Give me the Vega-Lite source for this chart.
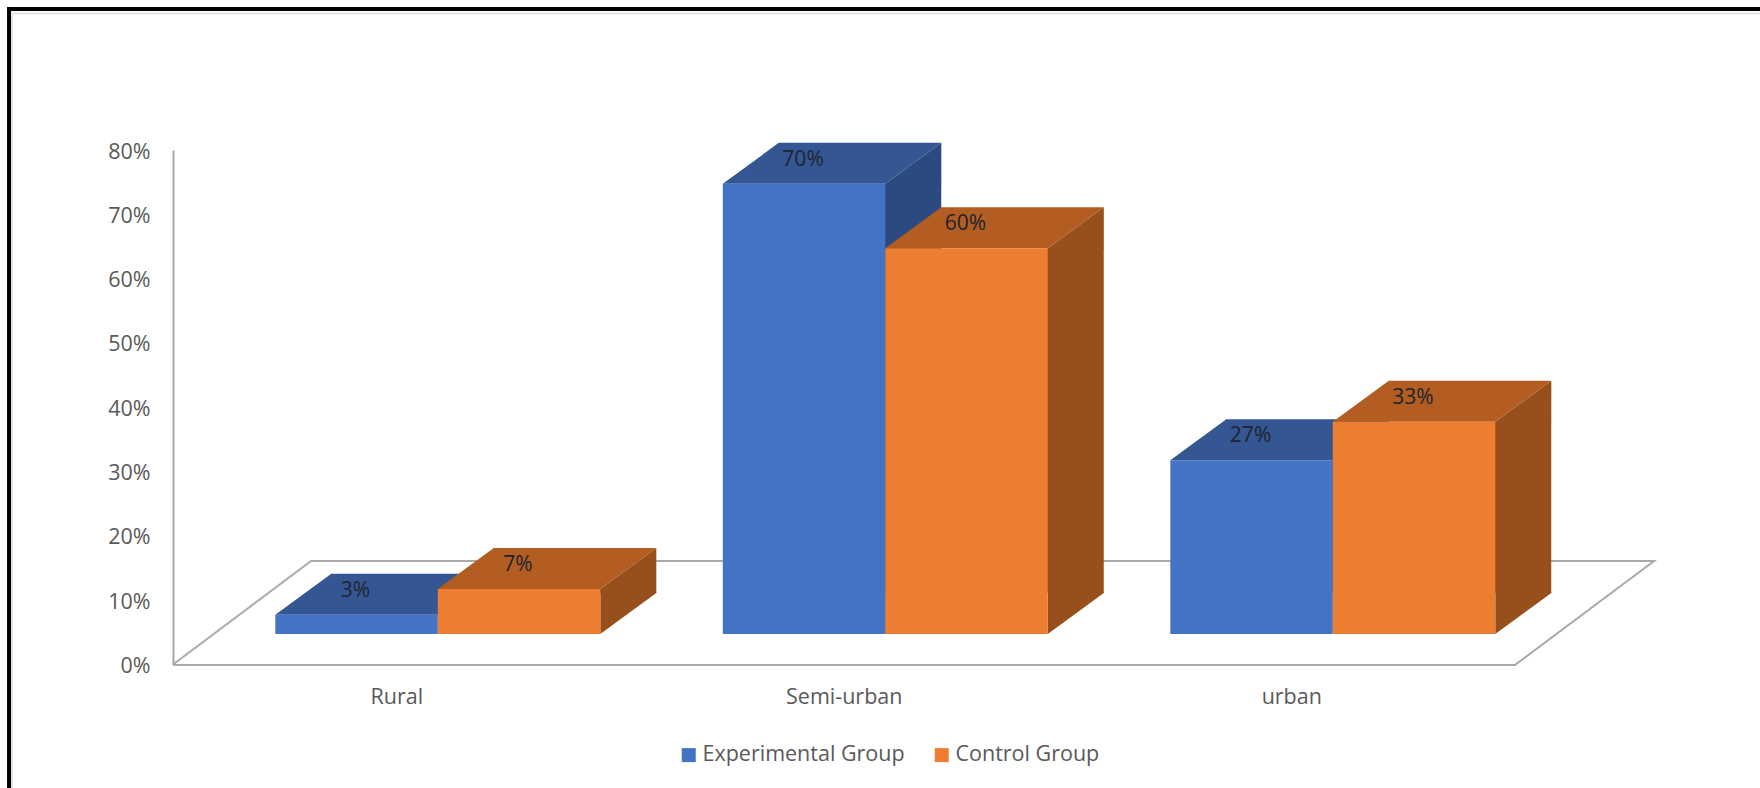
{
  "$schema": "https://vega.github.io/schema/vega-lite/v6.json",
  "width": 1342.5,
  "height": 514.5,
  "autosize": {"type": "none"},
  "padding": {"left": 173, "top": 150, "right": 244.5, "bottom": 123.5},
  "background": "#ffffff",
  "config": {
    "view": {"stroke": null},
    "font": "Open Sans",
    "axis": {"grid": false, "ticks": false, "title": null, "domainColor": "#a9a9a9", "domainWidth": 2, "labelColor": "#595959", "labelFont": "Open Sans", "labelFontSize": 21.5}
  },
  "datasets": {
    "columns": [
      {"area": "Rural", "group": "Experimental Group", "share": 0.03},
      {"area": "Rural", "group": "Control Group", "share": 0.07},
      {"area": "Semi-urban", "group": "Experimental Group", "share": 0.70},
      {"area": "Semi-urban", "group": "Control Group", "share": 0.60},
      {"area": "urban", "group": "Experimental Group", "share": 0.27},
      {"area": "urban", "group": "Control Group", "share": 0.33}
    ],
    "origin": [
      {"area": "Rural", "group": "Experimental Group", "share": 0}
    ]
  },
  "data": {"name": "columns"},
  "encoding": {
    "x": {
      "field": "area",
      "type": "nominal",
      "scale": {"domain": ["Rural", "Semi-urban", "urban"], "padding": 0},
      "axis": {"labelAngle": 0, "labelPadding": 22, "orient": "bottom"}
    },
    "xOffset": {
      "field": "group",
      "type": "nominal",
      "scale": {"type": "band", "domain": ["Experimental Group", "Control Group"], "paddingInner": 0, "paddingOuter": 0.377, "align": 0.835}
    },
    "y": {
      "field": "share",
      "type": "quantitative",
      "scale": {"domain": [0, 0.8], "nice": false},
      "axis": {"format": ".0%", "values": [0, 0.1, 0.2, 0.3, 0.4, 0.5, 0.6, 0.7, 0.8], "labelPadding": 23, "labelOffset": 2, "orient": "left"}
    }
  },
  "layer": [
    {
      "description": "Page frame: a heavy black rule with a pale inner line",
      "data": {"name": "origin"},
      "mark": {"type": "point", "filled": false, "opacity": 1, "size": 4, "stroke": "#000000", "strokeWidth": 4, "shape": "M-347.5,135 L-347.5,-655.5 L1410,-655.5"}
    },
    {
      "data": {"name": "origin"},
      "mark": {"type": "point", "filled": false, "opacity": 1, "size": 4, "stroke": "#e4e4e4", "strokeWidth": 2, "shape": "M-344.5,135 L-344.5,-651 L1410,-651"}
    },
    {
      "description": "Chart floor outline in perspective",
      "data": {"name": "origin"},
      "mark": {"type": "point", "filled": false, "opacity": 1, "size": 4, "stroke": "#a9a9a9", "strokeWidth": 2, "shape": "M1159,0 L1297.5,-103.5 L-45.5,-103.5 L-183.5,0"}
    },
    {
      "description": "Side face, straight part",
      "mark": {"type": "bar", "yOffset": -30.5, "y2Offset": -30.5},
      "encoding": {
        "xOffset": {
          "field": "group",
          "type": "nominal",
          "scale": {"domain": ["Experimental Group", "Control Group"], "range": [264, 483.25], "paddingInner": 0.6508, "paddingOuter": 0}
        },
        "y2": {"datum": 0.0638},
        "color": {"field": "group", "type": "nominal", "legend": null, "scale": {"domain": ["Experimental Group", "Control Group"], "range": ["#2b4a80", "#97501c"]}}
      }
    },
    {
      "description": "Side face, upper wedge, tucked slightly under the straight part",
      "mark": {"type": "point", "filled": true, "opacity": 1, "size": 4, "yOffset": -30.5, "shape": "M81.25,0 L137.25,-41 L137.25,1 L81.25,1 Z"},
      "encoding": {
        "color": {"field": "group", "type": "nominal", "legend": null, "scale": {"domain": ["Experimental Group", "Control Group"], "range": ["#2b4a80", "#97501c"]}}
      }
    },
    {
      "description": "Side face, lower wedge, tucked slightly under the straight part",
      "mark": {"type": "point", "filled": true, "opacity": 1, "size": 4, "yOffset": -30.5, "shape": "M81.25,0 L137.25,-41 L137.25,-42 L81.25,-42 Z"},
      "encoding": {
        "y": {"datum": 0},
        "color": {"field": "group", "type": "nominal", "legend": null, "scale": {"domain": ["Experimental Group", "Control Group"], "range": ["#2b4a80", "#97501c"]}}
      }
    },
    {
      "description": "Top face of each column, running a pixel under the front face",
      "mark": {"type": "point", "filled": true, "opacity": 1, "size": 4, "yOffset": -30.5, "shape": "M-81.25,1 L-81.25,0 L81.25,0 L137.25,-41 L-25.25,-41 L-81.25,0 Z"},
      "encoding": {
        "color": {"field": "group", "type": "nominal", "legend": null, "scale": {"domain": ["Experimental Group", "Control Group"], "range": ["#345692", "#b35d22"]}}
      }
    },
    {
      "description": "Front face of each column, carrying the legend",
      "mark": {"type": "bar", "yOffset": -30.5, "y2Offset": -30.5},
      "encoding": {
        "y2": {"datum": 0},
        "color": {
          "field": "group",
          "type": "nominal",
          "scale": {"domain": ["Experimental Group", "Control Group"], "range": ["#4472c4", "#ed7d31"]},
          "legend": {
            "title": null,
            "orient": "none",
            "legendX": 505,
            "legendY": 594,
            "direction": "horizontal",
            "symbolType": "square",
            "symbolSize": 196,
            "labelFont": "Open Sans",
            "labelFontSize": 21.5,
            "labelColor": "#595959",
            "labelOffset": 3,
            "labelLimit": 400,
            "columnPadding": 26
          }
        }
      }
    },
    {
      "description": "Value labels lying on the top faces",
      "mark": {"type": "text", "font": "Open Sans", "fontSize": 21, "color": "#20242e", "dx": -1, "yOffset": -54.5, "baseline": "middle", "align": "center"},
      "encoding": {"text": {"field": "share", "type": "quantitative", "format": ".0%"}}
    }
  ],
  "resolve": {"scale": {"color": "independent", "xOffset": "independent"}}
}
